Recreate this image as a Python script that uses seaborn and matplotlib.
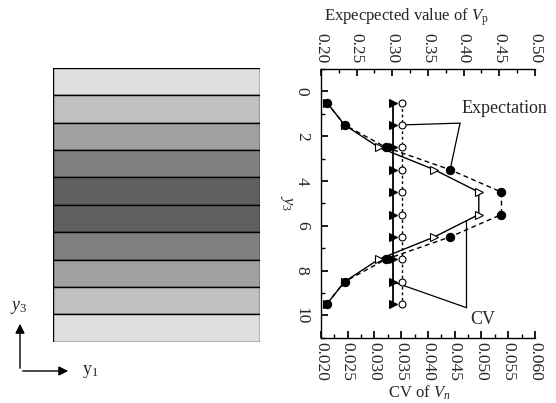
import numpy as np
import pandas as pd
import matplotlib
matplotlib.use("Agg")
import matplotlib.pyplot as plt
import seaborn as sns
from matplotlib.ticker import MultipleLocator, FormatStrFormatter

sns.set_theme(style="ticks")
plt.rcParams['font.family'] = ['Liberation Serif', 'DejaVu Serif']
plt.rcParams['mathtext.fontset'] = 'custom'
plt.rcParams['mathtext.rm'] = 'Liberation Serif'
plt.rcParams['mathtext.it'] = 'Liberation Serif:italic'

# ---------------- data ----------------
layer_names = ['L1', 'L2', 'L3', 'L4', 'L5', 'L6', 'L7', 'L8', 'L9', 'L10']
layer_width = [1, 1, 1, 1, 1, 1, 1, 1, 1, 1]
layer_grey = ['#e0e0e0', '#c0c0c0', '#a0a0a0', '#808080', '#606060',
              '#606060', '#808080', '#a0a0a0', '#c0c0c0', '#e0e0e0']

y3 = [0.5, 1.5, 2.5, 3.5, 4.5, 5.5, 6.5, 7.5, 8.5, 9.5]
exp_var = [0.208, 0.233, 0.291, 0.381, 0.453, 0.453, 0.381, 0.291, 0.233, 0.208]
exp_const = [0.314, 0.314, 0.314, 0.314, 0.314, 0.314, 0.314, 0.314, 0.314, 0.314]
cv_var = [0.0211, 0.0244, 0.0308, 0.0412, 0.0495, 0.0495, 0.0412, 0.0308, 0.0244, 0.0211]
cv_const = [0.0334, 0.0334, 0.0334, 0.0334, 0.0334, 0.0334, 0.0334, 0.0334, 0.0334, 0.0334]

y_ticks = [0, 2, 4, 6, 8, 10]

# ---------------- figure ----------------
fig = plt.figure(figsize=(5.56, 4.03), dpi=100)

# left: layered medium
axL = fig.add_axes([0.0959, 0.152, 0.3717, 0.680])
sns.barplot(x=layer_width, y=layer_names, hue=layer_names, palette=layer_grey,
            legend=False, width=1.0, edgecolor='black', linewidth=1.0,
            saturation=1, orient='h', ax=axL)
axL.set_xlim(0, 1)
axL.set_ylim(9.5, -0.5)
axL.axis('off')

# coordinate arrows
fig.add_artist(matplotlib.patches.FancyArrowPatch(
    (20 / 556, 32 / 403), (20 / 556, 82 / 403), transform=fig.transFigure,
    arrowstyle='-|>', mutation_scale=14, color='black', lw=1))
fig.add_artist(matplotlib.patches.FancyArrowPatch(
    (20 / 556, 32 / 403), (71 / 556, 32 / 403), transform=fig.transFigure,
    arrowstyle='-|>', mutation_scale=14, color='black', lw=1))
fig.text(19 / 556, 96 / 403, '$y_3$', fontsize=13, ha='center', va='center')
fig.text(82 / 556, 31 / 403, r'$\mathrm{y}_1$', fontsize=13, ha='left', va='center')

# right: profiles
ax = fig.add_axes([0.5773, 0.162, 0.3849, 0.667])
axt = ax.twiny()

# CV series on bottom axis
sns.lineplot(x=cv_var, y=y3, sort=False, estimator=None, ax=ax, color='black',
             lw=1, marker='>', markersize=6, markerfacecolor='white',
             markeredgecolor='black', markeredgewidth=0.8, zorder=3)
sns.lineplot(x=cv_const, y=y3, sort=False, estimator=None, ax=ax, color='black',
             lw=1.3, marker='>', markersize=6, markerfacecolor='black',
             markeredgecolor='black', zorder=3)

# Expectation series on top axis
sns.lineplot(x=exp_var, y=y3, sort=False, estimator=None, ax=axt, color='black',
             lw=1, linestyle=(0, (3.5, 2.5)), marker='o', markersize=6,
             markerfacecolor='black', markeredgecolor='black', zorder=3)
sns.lineplot(x=exp_const, y=y3, sort=False, estimator=None, ax=axt, color='black',
             lw=1, linestyle=(0, (2, 2)), marker='o', markersize=5,
             markerfacecolor='white', markeredgecolor='black', markeredgewidth=0.8,
             zorder=3)

ax.set_xlim(0.020, 0.060)
axt.set_xlim(0.20, 0.50)
ax.set_ylim(11, -1)

ax.xaxis.set_major_locator(MultipleLocator(0.005))
ax.xaxis.set_minor_locator(MultipleLocator(0.0025))
ax.xaxis.set_major_formatter(FormatStrFormatter('%.3f'))
axt.xaxis.set_major_locator(MultipleLocator(0.05))
axt.xaxis.set_minor_locator(MultipleLocator(0.025))
axt.xaxis.set_major_formatter(FormatStrFormatter('%.2f'))
ax.set_yticks(y_ticks)
ax.yaxis.set_minor_locator(MultipleLocator(1))

for a in (ax, axt):
    a.spines['right'].set_visible(False)
    for s in a.spines.values():
        s.set_linewidth(1.0)
        s.set_color('black')
axt.spines['left'].set_visible(False)
axt.spines['bottom'].set_visible(False)
ax.spines['top'].set_visible(False)

ax.tick_params(axis='both', which='both', direction='in', color='black',
               labelsize=12.5, top=False, right=False)
ax.tick_params(which='major', length=5)
ax.tick_params(which='minor', length=3)
ax.tick_params(axis='y', pad=8)
ax.tick_params(axis='x', pad=3)
axt.tick_params(axis='x', which='both', direction='in', color='black',
                labelsize=12.5, top=True, bottom=False, labeltop=True, labelbottom=False)
axt.tick_params(which='major', length=5, pad=4)
axt.tick_params(which='minor', length=3)

for lab in ax.get_xticklabels():
    lab.set_rotation(-90); lab.set_ha('center'); lab.set_va('top')
for lab in axt.get_xticklabels():
    lab.set_rotation(-90); lab.set_ha('center'); lab.set_va('bottom')
for lab in ax.get_yticklabels():
    lab.set_rotation(-90); lab.set_ha('right'); lab.set_va('center')

ax.set_xlabel('CV of $V_n$', fontsize=12, labelpad=2)
ax.xaxis.label.set_x(0.46)
axt.set_xlabel(r'Expecpected value of $V_{\rm p}$', fontsize=12, labelpad=9)
axt.xaxis.label.set_x(0.40)
ax.set_ylabel('$y_3$', fontsize=12, rotation=-90, labelpad=6, va='center')

# annotations
axt.annotate('', xy=(exp_const[1], y3[1]), xytext=(0.395, 1.42),
             arrowprops=dict(arrowstyle='-', color='black', lw=0.9, shrinkA=0, shrinkB=3))
axt.annotate('', xy=(exp_var[3], y3[3]), xytext=(0.395, 1.42),
             arrowprops=dict(arrowstyle='-', color='black', lw=0.9, shrinkA=0, shrinkB=3))
axt.text(0.457, 0.75, 'Expectation', fontsize=13, ha='center', va='center')

ax.annotate('', xy=(cv_const[8], y3[8]), xytext=(0.0472, 9.66),
            arrowprops=dict(arrowstyle='-', color='black', lw=0.9, shrinkA=0, shrinkB=1))
ax.annotate('', xy=(0.0472, 5.8), xytext=(0.0472, 9.66),
            arrowprops=dict(arrowstyle='-', color='black', lw=0.9, shrinkA=0, shrinkB=0))
ax.text(0.0502, 10.2, 'CV', fontsize=13, ha='center', va='center')

fig.savefig('out.png', dpi=100)
